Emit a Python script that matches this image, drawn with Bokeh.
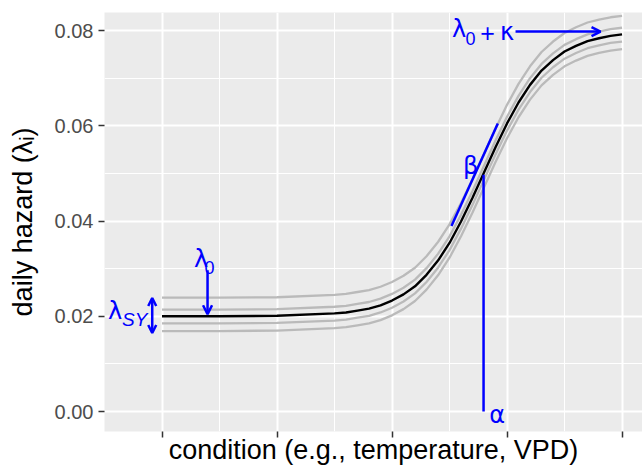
from bokeh.plotting import figure
from bokeh.models import (ColumnDataSource, FixedTicker, NumeralTickFormatter,
                          CustomJSTickFormatter, Range1d, Arrow, OpenHead)
from bokeh.embed import file_html
from bokeh.resources import INLINE

# ---- data ----
cond = [1.0, 1.5, 2.0, 2.5, 2.6, 2.7, 2.8, 2.9, 3.0, 3.1, 3.2, 3.3, 3.4, 3.5, 3.6,
        3.7, 3.8, 3.9, 4.0, 4.1, 4.2, 4.3, 4.4, 4.5, 4.6, 4.7, 4.8, 4.9, 5.0]
hazard_mean = [0.0200, 0.0200, 0.0201, 0.0206, 0.0208, 0.0212, 0.0216, 0.0223, 0.0233,
               0.0246, 0.0263, 0.0287, 0.0317, 0.0354, 0.0399, 0.0449, 0.0502, 0.0555,
               0.0605, 0.0649, 0.0686, 0.0716, 0.0738, 0.0756, 0.0768, 0.0778, 0.0784,
               0.0789, 0.0792]
hazard_sy1 = [0.0239, 0.0239, 0.0240, 0.0245, 0.0247, 0.0251, 0.0255, 0.0262, 0.0272,
              0.0285, 0.0302, 0.0326, 0.0356, 0.0393, 0.0438, 0.0488, 0.0541, 0.0594,
              0.0644, 0.0688, 0.0725, 0.0755, 0.0777, 0.0795, 0.0807, 0.0817, 0.0823,
              0.0828, 0.0831]
hazard_sy2 = [0.0214, 0.0214, 0.0215, 0.0220, 0.0222, 0.0226, 0.0230, 0.0237, 0.0247,
              0.0260, 0.0277, 0.0301, 0.0331, 0.0368, 0.0413, 0.0463, 0.0516, 0.0569,
              0.0619, 0.0663, 0.0700, 0.0730, 0.0752, 0.0770, 0.0782, 0.0792, 0.0798,
              0.0803, 0.0806]
hazard_sy3 = [0.0185, 0.0185, 0.0186, 0.0191, 0.0193, 0.0197, 0.0201, 0.0208, 0.0218,
              0.0231, 0.0248, 0.0272, 0.0302, 0.0339, 0.0384, 0.0434, 0.0487, 0.0540,
              0.0590, 0.0634, 0.0671, 0.0701, 0.0723, 0.0741, 0.0753, 0.0763, 0.0769,
              0.0774, 0.0777]
hazard_sy4 = [0.0169, 0.0169, 0.0170, 0.0175, 0.0177, 0.0181, 0.0185, 0.0192, 0.0202,
              0.0215, 0.0232, 0.0256, 0.0286, 0.0323, 0.0368, 0.0418, 0.0471, 0.0524,
              0.0574, 0.0618, 0.0655, 0.0685, 0.0707, 0.0725, 0.0737, 0.0747, 0.0753,
              0.0758, 0.0761]

x_ticks = [1, 2, 3, 4, 5]
x_minor = [0.5, 1.5, 2.5, 3.5, 4.5]
y_ticks = [0.0, 0.02, 0.04, 0.06, 0.08]
y_minor = [0.01, 0.03, 0.05, 0.07]

# annotation elements
beta_seg_x = [3.517, 3.920]
beta_seg_y = [0.03895, 0.06048]
alpha_seg_x = [3.796, 3.796]
alpha_seg_y = [0.0497, 0.0]

arrow_x0 = [1.396, 4.074]
arrow_y0 = [0.02968, 0.0798]
arrow_x1 = [1.396, 4.813]
arrow_y1 = [0.02042, 0.0798]
sy_arrow_x = [0.915, 0.915]
sy_arrow_y = [0.02385, 0.01648]

ann_text = ["λ", "0", "+", "κ", "λ", "0", "λ", "SY", "β", "α"]
ann_x = [3.522, 3.639, 3.768, 3.940, 1.279, 1.370, 0.531, 0.652, 3.618, 3.846]
ann_y = [0.0804, 0.0783, 0.0795, 0.0796, 0.0321, 0.0303, 0.02105, 0.01940, 0.0516, -0.0007]
ann_size = ["24px", "18px", "25px", "24px", "24px", "18px", "24px", "19px", "24px", "24px"]
ann_font = ["DejaVu Sans", "Liberation Sans", "Liberation Sans", "DejaVu Sans",
            "DejaVu Sans", "Liberation Sans", "DejaVu Sans", "Liberation Sans",
            "DejaVu Sans", "DejaVu Sans"]
ann_style = ["normal", "normal", "normal", "normal", "normal", "normal", "normal",
             "italic", "normal", "normal"]

BLUE = "#0000FF"

p = figure(width=642, height=468, output_backend="svg", toolbar_location=None,
           x_range=Range1d(0.5, 5.178), y_range=Range1d(-0.0042, 0.0838),
           min_border_left=104, min_border_right=0, min_border_top=12,
           min_border_bottom=37)
p.background_fill_color = "#EBEBEB"
p.border_fill_color = "white"
p.outline_line_color = None

# grids
for g in (p.xgrid, p.ygrid):
    g.grid_line_color = "white"
    g.grid_line_width = 2
    g.minor_grid_line_color = "white"
    g.minor_grid_line_width = 1
p.xaxis.ticker = FixedTicker(ticks=x_ticks, minor_ticks=x_minor)
p.yaxis.ticker = FixedTicker(ticks=y_ticks, minor_ticks=y_minor)
p.xgrid.ticker = p.xaxis.ticker
p.ygrid.ticker = p.yaxis.ticker

# axes
for ax in (p.xaxis, p.yaxis):
    ax.axis_line_color = None
    ax.major_tick_line_color = "#333333"
    ax.major_tick_line_width = 1.5
    ax.major_tick_out = 6
    ax.major_tick_in = 0
    ax.minor_tick_line_color = None
    ax.major_label_text_font = "Liberation Sans"
    ax.major_label_text_font_size = "20px"
    ax.major_label_text_color = "#4D4D4D"
    ax.axis_label_text_font = "Liberation Sans"
    ax.axis_label_text_font_size = "27px"
    ax.axis_label_text_font_style = "normal"
    ax.axis_label_text_color = "black"
p.xaxis.formatter = CustomJSTickFormatter(code="return ''")
p.xaxis.major_label_text_font_size = "0px"
p.xaxis.major_label_standoff = 0
p.xaxis.axis_label_standoff = -3
p.yaxis.formatter = NumeralTickFormatter(format="0.00")
p.yaxis.major_label_standoff = 5
p.yaxis.axis_label_standoff = 14
p.xaxis.axis_label = "condition (e.g., temperature, VPD)"
p.yaxis.axis_label = "daily hazard (λᵢ)"

# curves
src = ColumnDataSource(dict(x=cond, m=hazard_mean, a=hazard_sy1, b=hazard_sy2,
                            c=hazard_sy3, d=hazard_sy4))
for col in ("a", "b", "c", "d"):
    p.line("x", col, source=src, line_color="#BABABA", line_width=2.3)
p.line("x", "m", source=src, line_color="black", line_width=2.4)

# annotation segments
p.line(beta_seg_x, beta_seg_y, line_color=BLUE, line_width=2.5)
p.line(alpha_seg_x, alpha_seg_y, line_color=BLUE, line_width=2.5)

arr_src = ColumnDataSource(dict(x0=arrow_x0, y0=arrow_y0, x1=arrow_x1, y1=arrow_y1))
p.add_layout(Arrow(source=arr_src, x_start="x0", y_start="y0", x_end="x1", y_end="y1",
                   line_color=BLUE, line_width=2.5,
                   end=OpenHead(size=9, line_color=BLUE, line_width=2.5)))
p.add_layout(Arrow(x_start=sy_arrow_x[0], y_start=sy_arrow_y[0],
                   x_end=sy_arrow_x[1], y_end=sy_arrow_y[1],
                   line_color=BLUE, line_width=2.5,
                   start=OpenHead(size=8, line_color=BLUE, line_width=2.5),
                   end=OpenHead(size=8, line_color=BLUE, line_width=2.5)))

ann_src = ColumnDataSource(dict(x=ann_x, y=ann_y, t=ann_text, s=ann_size,
                                f=ann_font, st=ann_style))
p.text("x", "y", text="t", source=ann_src, text_font="f", text_font_size="s",
       text_font_style="st", text_color=BLUE, text_align="left",
       text_baseline="middle")

open("out.html", "w").write(file_html(p, INLINE))
